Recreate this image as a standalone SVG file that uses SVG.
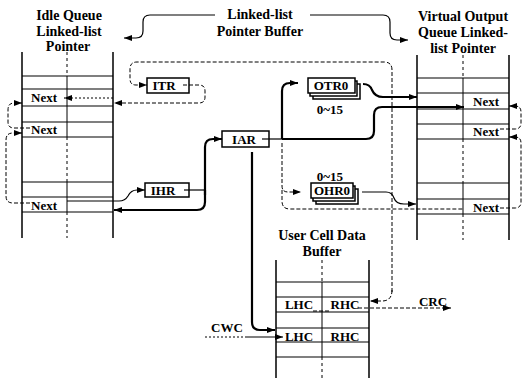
<svg xmlns="http://www.w3.org/2000/svg" width="524" height="378" viewBox="0 0 524 378">
<style>
text{font-family:"Liberation Serif","Times New Roman",serif;font-weight:bold;font-size:13px;fill:#000}
.t{text-anchor:middle}
.h{font-size:14px}
.wall{stroke:#000;stroke-width:1.5;fill:none}
.row{stroke:#000;stroke-width:1.2;fill:none}
.mid{stroke:#000;stroke-width:1;fill:none}
.dmid{stroke:#000;stroke-width:1;stroke-dasharray:3,3;fill:none}
.box{fill:#fff;stroke:#000;stroke-width:1.5}
.thin{stroke:#000;stroke-width:1.2;fill:none}
.thick{stroke:#000;stroke-width:2.2;fill:none}
.dash{stroke:#000;stroke-width:1;stroke-dasharray:4,2;fill:none}
.dot{stroke:#000;stroke-width:1;stroke-dasharray:2,2;fill:none}
</style>
<defs>
<marker id="ah" viewBox="0 0 8 6" refX="8" refY="3" markerWidth="8" markerHeight="6" orient="auto" markerUnits="userSpaceOnUse"><path d="M0,0 L8,3 L0,6 z" fill="#000"/></marker>
</defs>
<rect width="524" height="378" fill="#fff"/>

<g id="title-idle">
<text class="t h" x="69" y="20">Idle Queue</text>
<text class="t h" x="69" y="36">Linked-list</text>
<text class="t h" x="68" y="51">Pointer</text>
</g>
<g id="title-buffer">
<text class="t h" x="260" y="19">Linked-list</text>
<text class="t h" x="260" y="36">Pointer Buffer</text>
</g>
<g id="title-voq">
<text class="t h" x="463" y="21">Virtual Output</text>
<text class="t h" x="463" y="37">Queue Linked-</text>
<text class="t h" x="463" y="53">list Pointer</text>
</g>

<g id="idle-queue">
<path class="wall" d="M22,52 V238 M113,52 V238"/>
<path class="dmid" d="M67,52 V76 M67,137 V182 M67,212 V238"/>
<path class="mid" d="M67,76 V137 M67,182 V212"/>
<path class="row" d="M22,76 H113 M22,89 H113 M22,106 H113 M22,122 H113 M22,137 H113 M22,182 H113 M22,197 H113 M22,212 H113"/>
<text class="t" x="44" y="102">Next</text>
<text class="t" x="44" y="134">Next</text>
<text class="t" x="44" y="210">Next</text>
</g>

<g id="voq">
<path class="wall" d="M417,55 V240 M509,55 V240"/>
<path class="dmid" d="M463,55 V78 M463,139 V183 M463,214 V240"/>
<path class="mid" d="M463,78 V139 M463,183 V214"/>
<path class="row" d="M417,78 H509 M417,93 H509 M417,109 H509 M417,124 H509 M417,139 H509 M417,183 H509 M417,199 H509 M417,214 H509"/>
<text class="t" x="486" y="106">Next</text>
<text class="t" x="486" y="136">Next</text>
<text class="t" x="486" y="212">Next</text>
</g>

<g id="user-cell-buffer">
<text class="t h" x="322" y="240">User Cell Data</text>
<text class="t h" x="322" y="256">Buffer</text>
<path class="wall" d="M276,260 V378 M369,260 V378"/>
<path class="dmid" d="M322,260 V282 M322,357 V378"/>
<path class="mid" d="M322,282 V357"/>
<path class="row" d="M276,282 H369 M276,297 H369 M276,312 H369 M276,328 H369 M276,342 H369 M276,357 H369"/>
<text class="t" x="299" y="309">LHC</text>
<text class="t" x="345" y="309">RHC</text>
<text class="t" x="299" y="341">LHC</text>
<text class="t" x="345" y="341">RHC</text>
</g>

<g id="ITR">
<rect class="box" x="147" y="78" width="42" height="15"/>
<text class="t" x="164" y="90">ITR</text>
</g>
<g id="IHR">
<rect class="box" x="145" y="183" width="44" height="14"/>
<text class="t" x="163" y="195">IHR</text>
</g>
<g id="IAR">
<rect class="box" x="222" y="131" width="47" height="16"/>
<text class="t" x="244" y="144">IAR</text>
</g>
<g id="OTR0">
<rect class="box" x="313" y="84" width="47" height="15" stroke-width="1"/>
<rect class="box" x="310" y="81" width="47" height="15" stroke-width="1"/>
<rect class="box" x="308" y="78" width="47" height="15"/>
<text class="t" x="331" y="90">OTR0</text>
<text class="t" x="330" y="114">0~15</text>
</g>
<g id="OHR0">
<rect class="box" x="316" y="189" width="42" height="15" stroke-width="1"/>
<rect class="box" x="313" y="186" width="42" height="15" stroke-width="1"/>
<rect class="box" x="311" y="183" width="42" height="15"/>
<text class="t" x="332" y="195">OHR0</text>
<text class="t" x="330" y="181">0~15</text>
</g>
<g id="labels">
<text class="t" x="227" y="332">CWC</text>
<text class="t" x="433" y="306">CRC</text>
</g>

<g id="connectors">
<path class="thin" d="M215,15 H150 Q143,15 143,22 V31 Q143,38 136,38 H124" marker-end="url(#ah)"/>
<path class="thin" d="M310,15 H383 Q390,15 390,22 V33 Q390,40 397,40 H408" marker-end="url(#ah)"/>
<path class="dash" d="M392,292 V70 Q392,62 384,62 H137 Q130,62 130,69 V79 Q130,85 136,85 H147" marker-end="url(#ah)"/>
<path class="dash" d="M392,290 Q392,301 382,301 H370" marker-end="url(#ah)"/>
<path class="dash" d="M183,85 H199 Q205,85 205,91 V97 Q205,103 199,103 H114" marker-end="url(#ah)"/>
<path class="dot" d="M113,98 H64" marker-end="url(#ah)"/>
<path class="dash" d="M30,128 H14 Q8,128 8,122 V110 Q8,103 14,103 H22" marker-end="url(#ah)"/>
<path class="dash" d="M30,203 H13 Q6,203 6,196 V140 Q6,133 13,133 H22" marker-end="url(#ah)"/>
<path class="thin" d="M67,201 H119 Q125,201 128,196 Q131,190 137,190 H145" marker-end="url(#ah)"/>
<path class="thin" d="M184,190 H205"/>
<path class="thick" d="M205,195 V147 Q205,139 213,139 H222" marker-end="url(#ah)"/>
<path class="thick" d="M205,190 V202 Q205,210 197,210 H114" marker-end="url(#ah)"/>
<path class="thin" d="M262,139 H282"/>
<path class="thick" d="M282,139 V91 Q282,83 290,83 H298" marker-end="url(#ah)"/>
<path class="thick" d="M282,139 H366 Q374,139 374,131 V115 Q374,107 382,107 H464" marker-end="url(#ah)"/>
<path class="thick" d="M363,84 Q370,84 372,90 Q375,97 383,97 H417" marker-end="url(#ah)"/>
<path class="dash" d="M282,143 V186 Q282,192 288,192 H301" marker-end="url(#ah)"/>
<path class="dash" d="M282,190 V201 Q282,209 290,209 H463"/>
<path class="thin" d="M362,192 H386 Q392,192 394,198 Q396,204 404,204 H416" marker-end="url(#ah)"/>
<path class="dash" d="M500,129 H515 Q521,129 521,123 V112 Q521,106 515,106 H509" marker-end="url(#ah)"/>
<path class="dash" d="M500,208 H515 Q521,208 521,202 V143 Q521,137 515,137 H509" marker-end="url(#ah)"/>
<path class="thick" d="M252,152 V322 Q252,330 260,330 H275" marker-end="url(#ah)"/>
<path class="dot" d="M205,337 H245"/>
<path class="thin" d="M245,337 H283" marker-end="url(#ah)"/>
<path class="dash" d="M313,311 H331"/>
<path class="dash" d="M358,308 H451" marker-end="url(#ah)"/>
</g>
</svg>
